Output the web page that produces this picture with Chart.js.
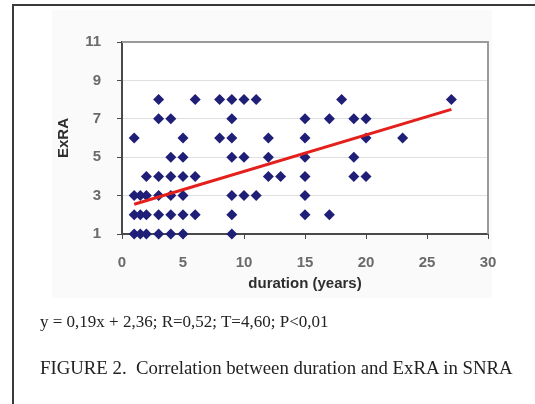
<!DOCTYPE html>
<html>
<head>
<meta charset="utf-8">
<script src="https://cdn.jsdelivr.net/npm/chart.js@4.4.1/dist/chart.umd.min.js"></script>
<style>
  html, body { margin: 0; padding: 0; background: #fff; }
  body { width: 535px; height: 404px; position: relative; overflow: hidden; }
  #chart { position: absolute; left: 0; top: 0; }
  #frame { position: absolute; left: 12px; top: 4px; width: 540px; height: 420px;
           border-top: 2px solid #3a3a3a; border-left: 2px solid #3a3a3a; }
  .note { position: absolute; left: 40px; font-family: 'Liberation Serif', serif; color: #222; white-space: nowrap; }
  #eq { top: 312px; font-size: 17px; }
  #cap { top: 357px; font-size: 18.8px; }
</style>
</head>
<body>
<div id="frame"></div>
<canvas id="chart" width="535" height="404"></canvas>
<div class="note" id="eq">y = 0,19x + 2,36; R=0,52; T=4,60; P&lt;0,01</div>
<div class="note" id="cap">FIGURE 2.&nbsp; Correlation between duration and ExRA in SNRA</div>
<script>
  // ---- data ----
  // duration (years) and ExRA score, one entry per patient marker
  const durationYears = [
    1, 1.5, 2, 3, 4, 5, 9,
    1, 1.5, 2, 3, 4, 5, 6, 9, 15, 17,
    1, 1.5, 2, 3, 4, 5, 9, 10, 11, 15,
    2, 3, 4, 5, 6, 12, 13, 15, 19, 20,
    4, 5, 9, 10, 12, 15, 19,
    1, 5, 8, 9, 12, 15, 20, 23,
    3, 4, 9, 15, 17, 19, 20,
    3, 6, 8, 9, 10, 11, 18, 27,
  ];
  const exraScores = [
    1, 1, 1, 1, 1, 1, 1,
    2, 2, 2, 2, 2, 2, 2, 2, 2, 2,
    3, 3, 3, 3, 3, 3, 3, 3, 3, 3,
    4, 4, 4, 4, 4, 4, 4, 4, 4, 4,
    5, 5, 5, 5, 5, 5, 5,
    6, 6, 6, 6, 6, 6, 6, 6,
    7, 7, 7, 7, 7, 7, 7,
    8, 8, 8, 8, 8, 8, 8, 8,
  ];
  // regression line end points (y = 0,19x + 2,36)
  const trendX = [1, 27];
  const trendY = [2.55, 7.49];

  const xRange = { min: 0, max: 30, step: 5 };
  const yRange = { min: 1, max: 11, step: 2 };

  const C = {
    marker: "#1f1f78",
    trend: "#e3201b",
    grid: "#e0e0e0",
    axis: "#4a4a4a",
    frame: "#9a9a9a",
    panel: "#fafafa",
    tick: "#6a6a6a",
    title: "#2e2e2e",
  };

  const sans = "'Liberation Sans', Arial, sans-serif";

  // grey panel behind the chart, white plot area, grey top/right border
  const backdrop = {
    id: "backdrop",
    beforeDraw(chart) {
      const { ctx, chartArea: a } = chart;
      ctx.save();
      ctx.fillStyle = C.panel;
      ctx.fillRect(52, 10, 440, 288);
      ctx.fillStyle = "#fff";
      ctx.fillRect(a.left, a.top, a.right - a.left, a.bottom - a.top);
      ctx.restore();
    },
    beforeDatasetsDraw(chart) {
      const { ctx, chartArea: a } = chart;
      ctx.save();
      ctx.strokeStyle = C.frame;
      ctx.lineWidth = 2;
      ctx.beginPath();
      ctx.moveTo(a.left, a.top);
      ctx.lineTo(a.right, a.top);
      ctx.lineTo(a.right, a.bottom);
      ctx.stroke();
      ctx.restore();
    },
  };

  new Chart(document.getElementById("chart"), {
    type: "scatter",
    data: {
      datasets: [
        {
          label: "trend",
          type: "line",
          data: trendX.map((x, i) => ({ x, y: trendY[i] })),
          borderColor: C.trend,
          borderWidth: 3,
          pointRadius: 0,
          fill: false,
          order: 0,
        },
        {
          label: "ExRA",
          data: durationYears.map((x, i) => ({ x, y: exraScores[i] })),
          pointStyle: "rectRot",
          pointRadius: 5.5,
          backgroundColor: C.marker,
          borderColor: C.marker,
          borderWidth: 0,
          clip: false,
          order: 1,
        },
      ],
    },
    options: {
      responsive: false,
      animation: false,
      devicePixelRatio: 1,
      layout: { padding: { top: 42, right: 47, bottom: 106, left: 0 } },
      plugins: { legend: { display: false }, tooltip: { enabled: false } },
      scales: {
        x: {
          type: "linear",
          min: xRange.min, max: xRange.max,
          afterFit: (s) => { s.height = 64; },
          ticks: { stepSize: xRange.step, padding: 15, color: C.tick, font: { family: sans, size: 15, weight: "bold" } },
          grid: { drawOnChartArea: false, drawTicks: true, tickLength: 5, tickColor: C.axis },
          border: { color: C.axis, width: 2 },
          title: { display: true, text: "duration (years)", color: C.title,
                   font: { family: sans, size: 15, weight: "bold" }, padding: { top: 0, bottom: 5 } },
        },
        y: {
          type: "linear",
          min: yRange.min, max: yRange.max,
          afterFit: (s) => { s.width = 122; },
          ticks: { stepSize: yRange.step, padding: 16, color: C.tick, font: { family: sans, size: 15, weight: "bold" } },
          grid: { color: C.grid, tickColor: C.axis, tickLength: 5 },
          border: { color: C.axis, width: 2 },
          title: { display: true, text: "ExRA", color: C.title,
                   font: { family: sans, size: 15, weight: "bold" }, padding: { top: 55, bottom: 0 } },
        },
      },
    },
    plugins: [backdrop],
  });
</script>
</body>
</html>
